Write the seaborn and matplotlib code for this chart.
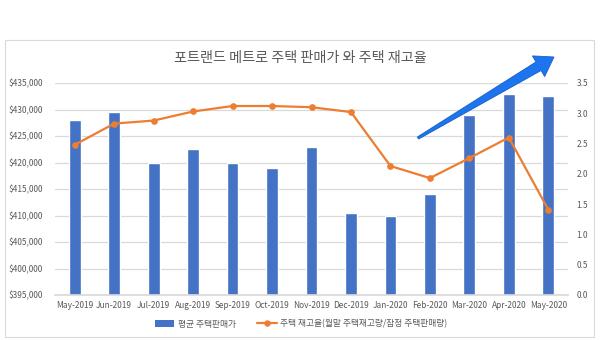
import numpy as np
import pandas as pd
import matplotlib
matplotlib.use("Agg")
import matplotlib.pyplot as plt
import seaborn as sns
from matplotlib.ticker import FuncFormatter, MultipleLocator
from matplotlib.patches import Polygon, Rectangle, Patch
from matplotlib.lines import Line2D

# ---- data ----
months = ["May-2019", "Jun-2019", "Jul-2019", "Aug-2019", "Sep-2019", "Oct-2019",
          "Nov-2019", "Dec-2019", "Jan-2020", "Feb-2020", "Mar-2020", "Apr-2020", "May-2020"]
avg_price = [428000, 429600, 420000, 422600, 420000, 419000,
             423000, 410400, 410000, 414100, 429000, 433000, 432500]
inventory_ratio = [2.48, 2.83, 2.88, 3.03, 3.12, 3.12,
                   3.10, 3.02, 2.13, 1.93, 2.26, 2.60, 1.41]

title = "포트랜드 메트로 주택 판매가 와 주택 재고율"
bar_label = "평균 주택판매가"
line_label = "주택 재고율(월말 주택재고량/잠정 주택판매량)"

df = pd.DataFrame({"month": months, "price": avg_price, "ratio": inventory_ratio})

sns.set_theme(style="white")
plt.rcParams["font.family"] = ["Noto Sans CJK KR", "DejaVu Sans"]

BLUE = "#4472C4"
ORANGE = "#ED7D31"
GREY_TXT = "#595959"
GRID = "#D9D9D9"
W, H = 600, 340

fig = plt.figure(figsize=(6, 3.4), dpi=100)
fig.patch.set_facecolor("white")

def px(x, y):
    return (x / W, 1 - y / H)

# chart border
fig.patches.append(Rectangle(px(5, 337), 589 / W, 297 / H, transform=fig.transFigure,
                             fill=False, edgecolor=GRID, lw=0.8))

left, right, top, bottom = 55, 568, 83, 295
ax = fig.add_axes([left / W, 1 - bottom / H, (right - left) / W, (bottom - top) / H])

sns.barplot(data=df, x="month", y="price", color=BLUE, width=0.3, saturation=1, ax=ax, zorder=2)
ax.set_ylim(395000, 435000)
ax.yaxis.set_major_locator(MultipleLocator(5000))
ax.yaxis.set_major_formatter(FuncFormatter(lambda v, p: f"${v:,.0f}"))
ax.yaxis.grid(True, color=GRID, lw=0.9)
ax.set_axisbelow(True)

ax2 = ax.twinx()
sns.pointplot(data=df, x="month", y="ratio", color=ORANGE, markers="o", markersize=3.6,
              linewidth=1.6, ax=ax2)
ax2.set_ylim(0, 3.5)
ax2.yaxis.set_major_locator(MultipleLocator(0.5))
ax2.yaxis.set_major_formatter(FuncFormatter(lambda v, p: f"{v:.1f}"))
ax.set_xlim(-0.5, len(months) - 0.5)

for a in (ax, ax2):
    a.set_xlabel("")
    a.set_ylabel("")
    for s in a.spines.values():
        s.set_visible(False)
    a.tick_params(axis="both", length=0, labelsize=6, colors=GREY_TXT)
ax.spines["bottom"].set_visible(True)
ax.spines["bottom"].set_color(GRID)
ax.tick_params(axis="x", pad=4)
ax.tick_params(axis="y", pad=9)
ax2.tick_params(axis="y", pad=6)

# title
fig.text(*px(300, 58), title, ha="center", va="center", fontsize=10.2, color=GREY_TXT)

# legend
handles = [Patch(facecolor=BLUE, edgecolor="none", label=bar_label),
           Line2D([0], [0], color=ORANGE, lw=1.6, marker="o", markersize=3.6, label=line_label)]
fig.legend(handles=handles, loc="center", bbox_to_anchor=px(301, 324), ncol=2, frameon=False,
           fontsize=6.3, labelcolor=GREY_TXT, handlelength=2.2, columnspacing=2.5,
           handletextpad=0.4)

# decorative arrow
tip = np.array([554.0, 57.0])
tail = np.array([418.0, 138.0])
u = (tip - tail) / np.linalg.norm(tip - tail)
n = np.array([-u[1], u[0]])
base = tip - 18 * u
pts = [tail - 1.2 * n, base - 5.0 * n, base - 12.0 * n, tip,
       base + 12.0 * n, base + 5.0 * n, tail + 1.2 * n]
pts = [px(p[0], p[1]) for p in pts]
fig.patches.append(Polygon(pts, closed=True, transform=fig.transFigure,
                           facecolor="#1C74EE", edgecolor="#1660C8", lw=0.6))

fig.savefig("out.png", dpi=100)
